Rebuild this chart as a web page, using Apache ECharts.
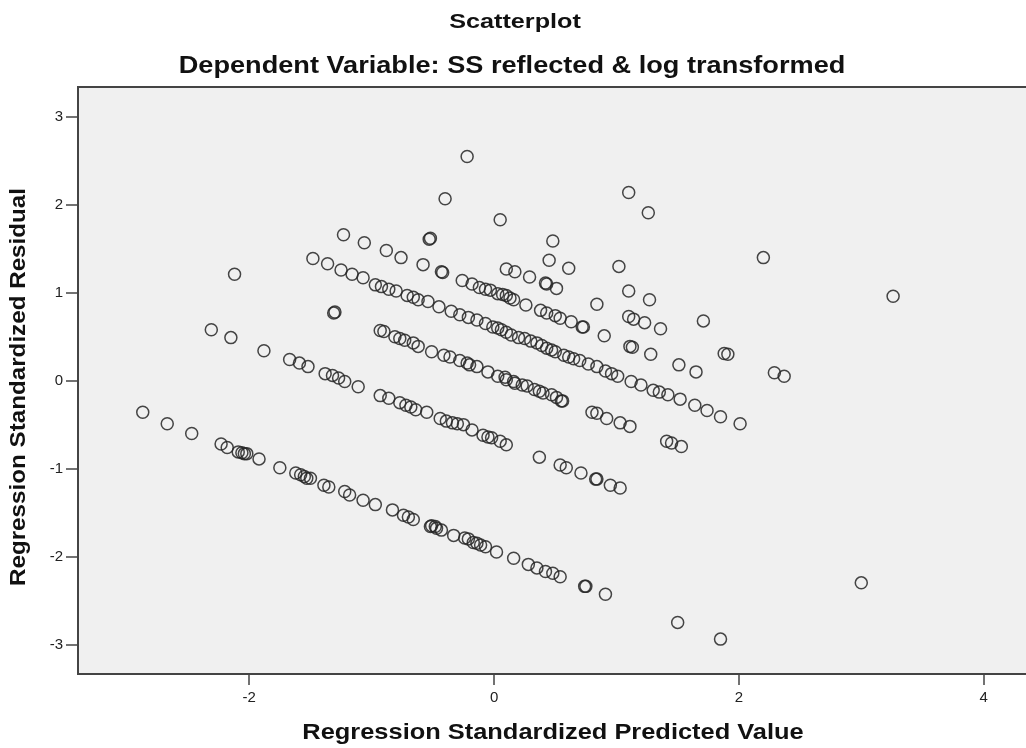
<!DOCTYPE html>
<html>
<head>
<meta charset="utf-8">
<script src="https://cdn.jsdelivr.net/npm/echarts@6/dist/echarts.min.js"></script>
<style>
html,body{margin:0;padding:0;background:#fff;}
#chart{width:1026px;height:748px;}
</style>
</head>
<body>
<div id="chart"></div>
<script>
// Tick labels
var xTicks = [-2, 0, 2, 4];
var yTicks = [-3, -2, -1, 0, 1, 2, 3];

// Texts
var titleMain = 'Scatterplot';
var titleSub = 'Dependent Variable: SS reflected & log transformed';
var xName = 'Regression Standardized Predicted Value';
var yName = 'Regression Standardized Residual';

// Points (predicted, residual), grouped by diagonal bands
var band0 = [[-0.53,1.61],[-0.52,1.62],[0.10,1.27],[0.17,1.24],[0.29,1.18],[0.42,1.11],[0.43,1.10],[0.51,1.05],
  [1.10,0.73],[1.14,0.70],[1.23,0.66],[1.36,0.59],[1.88,0.31],[1.91,0.30],[2.29,0.09],[2.37,0.05]];

var band1 = [[-1.23,1.66],[-1.06,1.57],[-0.88,1.48],[-0.76,1.40],[-0.58,1.32],[-0.43,1.24],[-0.42,1.23],
  [-0.26,1.14],[-0.18,1.10],[-0.12,1.06],[-0.07,1.04],[-0.03,1.03],[0.03,0.99],[0.07,0.98],[0.10,0.97],
  [0.13,0.94],[0.16,0.92],[0.26,0.86],[0.38,0.80],[0.43,0.77],[0.50,0.74],[0.54,0.71],[0.63,0.67],
  [0.72,0.61],[0.73,0.61],[0.90,0.51],[1.11,0.39],[1.13,0.38],[1.28,0.30],[1.51,0.18],[1.65,0.10]];

var band2 = [[-1.48,1.39],[-1.36,1.33],[-1.25,1.26],[-1.16,1.21],[-1.07,1.17],[-0.97,1.09],[-0.92,1.07],
  [-0.86,1.04],[-0.80,1.02],[-0.71,0.97],[-0.66,0.95],[-0.62,0.92],[-0.54,0.90],[-0.45,0.84],[-0.35,0.79],
  [-0.28,0.75],[-0.21,0.72],[-0.14,0.69],[-0.07,0.65],[-0.01,0.61],[0.03,0.60],[0.06,0.58],[0.10,0.55],
  [0.14,0.52],[0.20,0.49],[0.25,0.48],[0.30,0.45],[0.35,0.43],[0.39,0.40],[0.43,0.37],[0.47,0.35],
  [0.50,0.33],[0.57,0.29],[0.61,0.27],[0.65,0.25],[0.70,0.23],[0.77,0.19],[0.84,0.16],[0.91,0.11],
  [0.96,0.08],[1.01,0.05],[1.12,-0.01],[1.20,-0.05],[1.30,-0.11],[1.35,-0.13],[1.42,-0.16],[1.52,-0.21],
  [1.64,-0.28],[1.74,-0.34],[1.85,-0.41],[2.01,-0.49]];

var band3 = [[-2.12,1.21],[-1.31,0.77],[-1.30,0.78],[-0.93,0.57],[-0.90,0.56],[-0.81,0.50],[-0.77,0.48],
  [-0.73,0.46],[-0.66,0.43],[-0.62,0.39],[-0.51,0.33],[-0.41,0.29],[-0.36,0.27],[-0.28,0.23],[-0.22,0.20],
  [-0.20,0.18],[-0.14,0.16],[-0.05,0.10],[0.03,0.05],[0.09,0.04],[0.10,0.01],[0.16,-0.01],[0.17,-0.03],
  [0.23,-0.05],[0.27,-0.06],[0.33,-0.10],[0.37,-0.12],[0.40,-0.14],[0.47,-0.16],[0.51,-0.19],[0.55,-0.23],
  [0.56,-0.23],[0.80,-0.36],[0.84,-0.37],[0.92,-0.43],[1.03,-0.48],[1.11,-0.52],[1.41,-0.69],[1.45,-0.71],
  [1.53,-0.75]];

var band4 = [[-2.31,0.58],[-2.15,0.49],[-1.88,0.34],[-1.67,0.24],[-1.59,0.20],[-1.52,0.16],[-1.38,0.08],
  [-1.32,0.06],[-1.27,0.03],[-1.22,-0.01],[-1.11,-0.07],[-0.93,-0.17],[-0.86,-0.20],[-0.77,-0.25],
  [-0.72,-0.28],[-0.68,-0.30],[-0.64,-0.33],[-0.55,-0.36],[-0.44,-0.43],[-0.39,-0.46],[-0.34,-0.48],
  [-0.30,-0.49],[-0.25,-0.50],[-0.18,-0.56],[-0.09,-0.62],[-0.05,-0.64],[-0.02,-0.65],[0.05,-0.69],
  [0.10,-0.73],[0.37,-0.87],[0.54,-0.96],[0.59,-0.99],[0.71,-1.05],[0.83,-1.12],[0.84,-1.12],[0.95,-1.19],
  [1.03,-1.22]];

var band5 = [[-2.87,-0.36],[-2.67,-0.49],[-2.47,-0.60],[-2.23,-0.72],[-2.18,-0.76],[-2.09,-0.81],[-2.06,-0.82],
  [-2.04,-0.83],[-2.02,-0.83],[-1.92,-0.89],[-1.75,-0.99],[-1.62,-1.05],[-1.58,-1.07],[-1.55,-1.09],
  [-1.53,-1.11],[-1.50,-1.11],[-1.39,-1.19],[-1.35,-1.21],[-1.22,-1.26],[-1.18,-1.30],[-1.07,-1.36],
  [-0.97,-1.41],[-0.83,-1.47],[-0.74,-1.53],[-0.70,-1.55],[-0.66,-1.58],[-0.52,-1.66],[-0.51,-1.65],
  [-0.48,-1.66],[-0.47,-1.68],[-0.43,-1.70],[-0.33,-1.76],[-0.24,-1.79],[-0.21,-1.80],[-0.17,-1.84],
  [-0.14,-1.85],[-0.11,-1.87],[-0.07,-1.89],[0.02,-1.95],[0.16,-2.02],[0.28,-2.09],[0.35,-2.13],
  [0.42,-2.17],[0.48,-2.19],[0.54,-2.23],[0.74,-2.34],[0.75,-2.34],[0.91,-2.43]];

var scattered = [[-0.22,2.55],[-0.40,2.07],[0.05,1.83],[1.10,2.14],[1.26,1.91],[0.48,1.59],[0.45,1.37],
  [0.61,1.28],[1.02,1.30],[2.20,1.40],[3.26,0.96],[1.10,1.02],[1.27,0.92],[0.84,0.87],[1.71,0.68],
  [3.00,-2.30],[1.50,-2.75],[1.85,-2.94]];

var allPoints = [].concat(band0, band1, band2, band3, band4, band5, scattered);

var chart = echarts.init(document.getElementById('chart'), null, {renderer: 'canvas'});
var FONT = '"Liberation Sans", Arial, sans-serif';
function label(text, x, y, size, sx, rot) {
  return {
    type: 'text', x: x, y: y, scaleX: sx, scaleY: 1, rotation: rot || 0, z: 10, silent: true,
    style: {text: text, font: 'bold ' + size + 'px ' + FONT, fill: '#111', align: 'center', verticalAlign: 'middle'}
  };
}
chart.setOption({
  animation: false,
  backgroundColor: '#ffffff',
  graphic: [
    label(titleMain, 515, 22, 21, 1.2),
    label(titleSub, 512, 67, 23, 1.18),
    label(xName, 553, 733, 22, 1.155),
    label(yName, 19, 387, 22, 1.10, Math.PI / 2)
  ],
  grid: {left: 78, right: -2, top: 87, bottom: 74, show: true, outerBoundsMode: 'none', containLabel: false,
         backgroundColor: '#f0f0f0', borderColor: '#444', borderWidth: 2},
  xAxis: {
    type: 'value', min: -3.399, max: 4.362,
    splitLine: {show: false},
    axisLine: {show: true, onZero: false, lineStyle: {color: '#444', width: 2}},
    axisTick: {show: true, length: 11, customValues: xTicks, lineStyle: {color: '#444', width: 1.5}},
    axisLabel: {customValues: xTicks, margin: 16, fontFamily: FONT, fontSize: 15, color: '#222'}
  },
  yAxis: {
    type: 'value', min: -3.337, max: 3.341,
    splitLine: {show: false},
    axisLine: {show: true, onZero: false, lineStyle: {color: '#444', width: 2}},
    axisTick: {show: true, length: 12, customValues: yTicks, lineStyle: {color: '#444', width: 1.5}},
    axisLabel: {customValues: yTicks, margin: 15, fontFamily: FONT, fontSize: 15, color: '#222'}
  },
  series: [{
    type: 'scatter',
    data: allPoints,
    symbol: 'circle',
    symbolSize: 12,
    itemStyle: {color: 'rgba(0,0,0,0)', borderColor: '#262626', borderWidth: 1.5, opacity: 0.85},
    emphasis: {disabled: true},
    silent: true
  }]
});
</script>
</body>
</html>
